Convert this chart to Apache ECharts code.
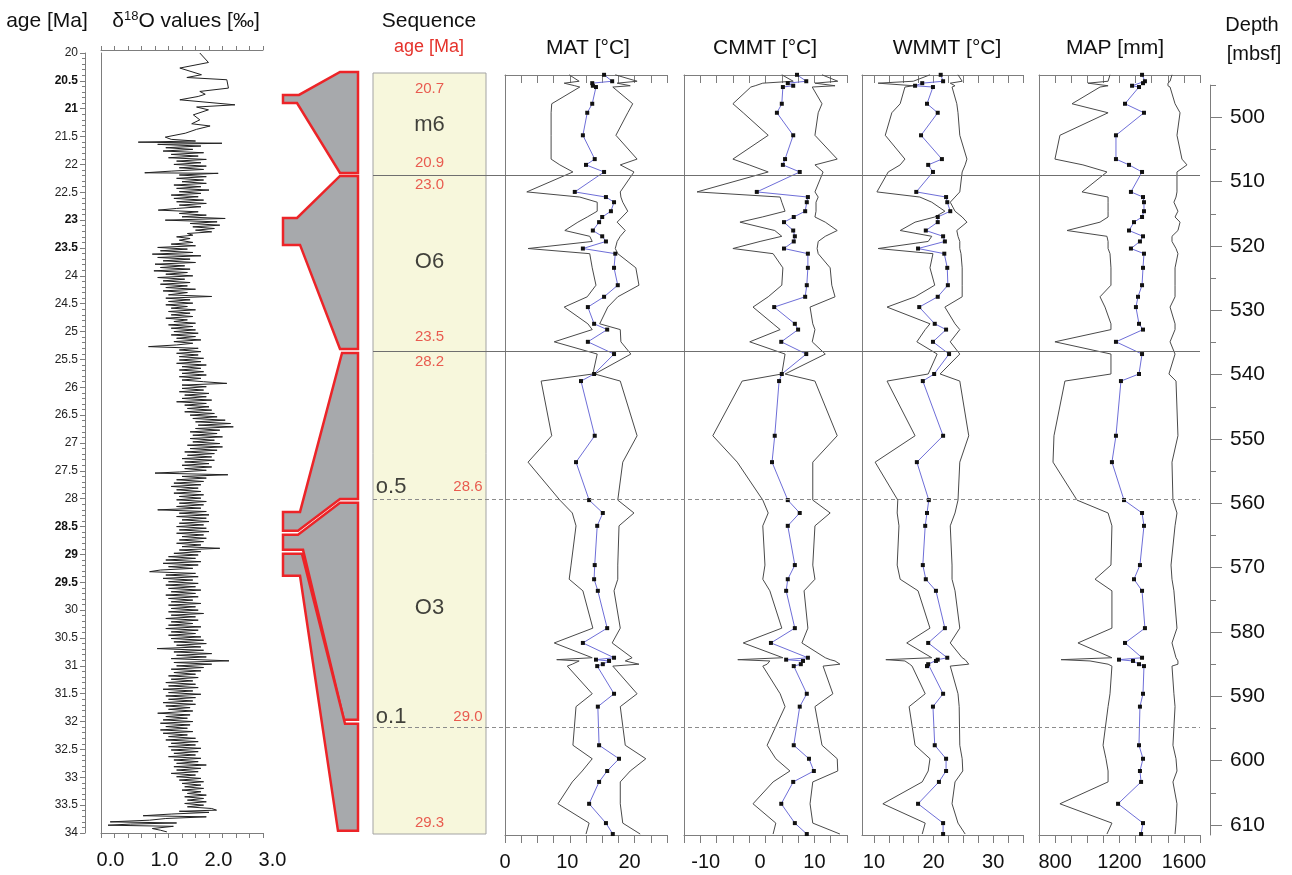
<!DOCTYPE html>
<html><head><meta charset="utf-8">
<script src="https://cdn.jsdelivr.net/npm/echarts@6/dist/echarts.min.js"></script>
<style>html,body{margin:0;padding:0;background:#fff}#c{width:1292px;height:875px}</style>
</head><body><div id="c"></div><script>
// ---------------- DATA ----------------
// delta18O record: [age Ma, value permil]
const d18O = [
[20.00,1.83],[20.17,1.99],[20.27,1.46],[20.39,1.86],[20.44,1.59],[20.48,2.33],[20.63,2.36],[20.69,1.83],[20.74,1.93],[20.78,1.80],[20.84,1.46],[20.93,2.48],[20.97,1.77],[21.02,1.99],[21.11,1.71],[21.20,1.83],[21.27,1.68],[21.31,2.02],[21.37,1.77],[21.44,1.56],[21.51,1.19],
[21.55,1.30],[21.58,1.75],[21.60,0.69],[21.62,2.24],[21.64,1.05],[21.67,1.85],[21.70,1.20],[21.73,1.70],[21.76,1.15],[21.79,1.90],[21.82,1.30],[21.85,1.80],[21.88,1.25],[21.91,1.95],[21.94,1.40],[21.97,1.85],
[22.00,1.35],[22.03,1.95],[22.06,1.45],[22.09,1.90],[22.12,1.30],[22.15,0.81],[22.16,2.17],[22.19,1.45],[22.22,1.95],[22.25,1.40],[22.28,1.90],[22.31,1.50],[22.34,1.95],[22.37,1.35],[22.40,1.85],[22.43,1.40],[22.46,2.00],[22.49,1.45],
[22.52,1.85],[22.55,1.30],[22.58,1.80],[22.61,1.35],[22.64,1.90],[22.67,1.40],[22.70,1.95],[22.73,1.45],[22.76,1.85],[22.79,1.40],[22.82,1.06],[22.85,1.80],[22.88,1.45],[22.91,1.95],[22.94,1.50],[22.97,2.30],[23.00,1.19],[23.03,2.15],
[23.06,1.65],[23.09,2.20],[23.12,1.70],[23.15,2.10],[23.18,1.75],[23.21,2.05],[23.24,1.60],[23.27,1.70],[23.30,1.40],[23.33,1.65],[23.36,1.45],[23.40,1.70],[23.43,1.30],
[23.46,1.75],[23.49,1.05],[23.52,1.60],[23.55,1.10],[23.58,1.70],[23.61,0.95],[23.64,1.85],[23.67,1.05],[23.70,1.65],[23.73,1.15],[23.76,1.75],[23.79,1.00],[23.82,1.55],[23.85,1.10],[23.88,1.65],[23.91,0.98],[23.94,1.60],[23.97,1.20],
[24.00,1.70],[24.03,1.05],[24.06,1.55],[24.09,1.15],[24.12,1.65],[24.15,1.10],[24.18,1.60],[24.21,1.20],[24.24,1.75],[24.27,1.15],[24.30,1.60],[24.34,1.25],[24.37,2.05],[24.40,1.20],[24.43,1.65],[24.46,1.25],
[24.49,1.70],[24.52,1.20],[24.55,1.60],[24.58,1.30],[24.61,1.75],[24.64,1.25],[24.67,1.65],[24.70,1.30],[24.73,1.70],[24.76,1.20],[24.79,1.60],[24.82,1.35],[24.85,1.75],[24.88,1.25],[24.91,1.70],[24.94,1.30],[24.97,1.75],
[25.00,1.35],[25.03,1.80],[25.06,1.30],[25.09,1.75],[25.12,1.40],[25.15,1.85],[25.18,1.35],[25.21,1.70],[25.24,1.40],[25.27,0.88],[25.30,1.80],[25.33,1.45],[25.36,1.85],[25.39,1.40],[25.42,1.80],[25.45,1.45],[25.48,1.90],
[25.51,1.45],[25.54,1.85],[25.57,1.40],[25.60,1.95],[25.63,1.50],[25.66,1.85],[25.69,1.45],[25.72,1.90],[25.75,1.50],[25.78,1.95],[25.81,1.45],[25.84,1.85],[25.87,1.50],[25.90,1.90],[25.93,2.33],[25.96,1.50],
[25.99,1.95],[26.02,1.50],[26.05,1.90],[26.08,1.45],[26.11,2.00],[26.14,1.55],[26.17,1.95],[26.20,1.50],[26.23,2.05],[26.26,1.40],[26.29,1.95],[26.32,1.55],[26.35,2.00],[26.38,1.60],[26.41,2.05],[26.44,1.55],[26.47,2.10],
[26.50,1.65],[26.53,2.15],[26.56,1.70],[26.59,2.30],[26.62,1.75],[26.65,2.40],[26.68,1.80],[26.71,2.45],[26.74,1.75],[26.77,2.20],[26.80,1.65],[26.83,2.15],[26.86,1.70],[26.89,2.25],[26.92,1.65],[26.95,2.10],[26.98,1.70],
[27.01,2.20],[27.04,1.60],[27.07,2.25],[27.10,1.65],[27.13,2.15],[27.16,1.55],[27.19,2.10],[27.22,1.60],[27.25,2.05],[27.28,1.50],[27.31,2.10],[27.34,1.55],[27.37,2.00],[27.40,1.50],[27.43,2.05],[27.46,1.55],[27.49,1.95],
[27.52,1.45],[27.54,1.00],[27.57,2.35],[27.60,1.50],[27.63,1.95],[27.66,1.40],[27.69,1.90],[27.72,1.35],[27.75,1.85],[27.78,1.30],[27.81,1.80],[27.84,1.40],[27.87,1.85],[27.90,1.35],[27.93,1.90],[27.96,1.45],[27.99,1.85],
[28.02,1.40],[28.05,1.95],[28.08,1.45],[28.11,1.90],[28.14,1.40],[28.17,1.85],[28.20,1.05],[28.23,1.95],[28.26,1.45],[28.29,2.00],[28.32,1.40],[28.35,1.95],[28.38,1.50],[28.41,2.00],[28.44,1.45],[28.47,1.90],
[28.50,1.40],[28.53,1.95],[28.56,1.45],[28.59,2.00],[28.62,1.40],[28.65,1.90],[28.68,1.50],[28.71,1.95],[28.74,1.45],[28.77,1.90],[28.80,1.40],[28.83,1.85],[28.86,1.50],[28.89,2.20],[28.92,1.45],[28.95,1.85],[28.98,1.35],
[29.01,1.80],[29.04,1.25],[29.07,1.75],[29.10,1.20],[29.13,1.85],[29.16,1.15],[29.19,1.80],[29.22,1.25],[29.25,1.70],[29.28,1.10],[29.31,0.90],[29.34,1.75],[29.37,1.20],[29.40,1.80],[29.43,1.15],[29.46,1.70],[29.49,1.25],
[29.52,1.80],[29.55,1.20],[29.58,1.75],[29.61,1.25],[29.64,1.85],[29.67,1.30],[29.70,1.75],[29.73,1.20],[29.76,1.80],[29.79,1.25],[29.82,1.70],[29.85,1.30],[29.88,1.85],[29.91,1.25],[29.94,1.75],[29.97,1.30],
[30.00,1.80],[30.03,1.25],[30.06,1.90],[30.09,1.30],[30.12,1.75],[30.15,1.20],[30.18,1.80],[30.21,1.30],[30.24,1.70],[30.27,1.25],[30.30,1.85],[30.33,1.20],[30.36,1.80],[30.39,1.30],[30.42,1.75],[30.45,1.25],[30.48,1.85],
[30.51,1.30],[30.54,1.90],[30.57,1.35],[30.60,1.95],[30.63,1.40],[30.66,1.85],[30.69,1.04],[30.72,1.90],[30.75,1.35],[30.78,2.05],[30.81,1.40],[30.84,1.95],[30.87,1.30],[30.91,2.37],[30.94,1.35],[30.97,2.05],
[31.00,1.40],[31.03,1.90],[31.06,1.30],[31.09,1.85],[31.12,1.35],[31.15,1.75],[31.18,1.25],[31.21,1.80],[31.24,1.30],[31.27,1.70],[31.30,1.20],[31.33,1.75],[31.36,1.25],[31.39,1.80],[31.42,1.15],[31.45,1.70],[31.48,1.25],
[31.51,1.85],[31.54,1.20],[31.57,1.75],[31.60,1.25],[31.63,1.70],[31.66,1.15],[31.69,1.75],[31.72,1.20],[31.75,1.65],[31.78,1.25],[31.81,1.70],[31.85,1.05],[31.88,1.65],[31.91,1.20],[31.94,1.60],[31.97,1.15],
[32.00,1.70],[32.03,1.10],[32.06,1.65],[32.09,1.20],[32.12,1.60],[32.15,1.10],[32.18,1.70],[32.21,1.15],[32.24,1.60],[32.27,1.25],[32.30,1.75],[32.33,1.20],[32.36,1.80],[32.39,1.30],[32.42,1.75],[32.45,1.25],[32.48,1.85],
[32.51,1.30],[32.54,1.80],[32.57,1.35],[32.60,1.75],[32.63,1.25],[32.66,1.85],[32.69,1.35],[32.72,1.80],[32.75,1.40],[32.78,1.95],[32.81,1.35],[32.84,1.85],[32.87,1.40],[32.90,1.80],[32.93,1.30],[32.96,1.75],[32.99,1.40],
[33.02,1.85],[33.05,1.45],[33.08,1.90],[33.11,1.50],[33.14,1.85],[33.17,1.55],[33.20,1.90],[33.23,1.50],[33.26,1.85],[33.29,1.60],[33.32,1.95],[33.35,1.55],[33.38,1.90],[33.41,1.60],[33.44,1.95],[33.47,1.55],[33.50,1.90],
[33.53,1.60],[33.56,2.05],[33.59,2.14],[33.61,1.45],[33.63,2.00],[33.66,1.30],[33.69,0.78],[33.71,1.95],[33.74,1.20],[33.77,0.90],[33.80,0.17],[33.82,1.40],[33.84,0.55],[33.86,0.13],[33.88,1.34],[33.92,0.95],[33.95,1.10],[33.98,1.22]
];
const ageBoldLabels = ['20.5','21','23','23.5','28.5','29','29.5'];
const d18OTicks = [0,0.25,0.5,0.75,1,1.25,1.5,1.75,2,2.25,2.5,2.75,3];
const d18OLabels = [0,1,2,3];

// sample depths (mbsf) shared by all proxy panels
const depths = [493.4,494.4,494.7,495.1,495.3,497.9,499.3,502.8,506.5,507.4,
508.5,511.6,512.4,513.2,514.6,515.5,516.3,517.6,518.5,519.3,
520.4,521.2,523.4,526.1,527.9,529.5,532.1,533.0,534.9,536.8,
539.9,541.0,549.5,553.6,559.5,561.5,563.5,569.6,571.8,573.6,
579.4,581.7,584.0,584.3,584.5,585.0,585.3,589.6,591.6,597.6,
599.7,601.6,603.3,606.7,609.7,611.4];

const matMean = [15.9,17.2,14.0,14.1,14.6,14.0,13.2,12.5,14.4,13.0,15.9,11.2,16.2,17.5,17.0,15.6,15.1,14.1,15.6,16.2,12.5,17.7,17.5,18.1,15.9,13.3,14.3,16.4,13.3,17.5,14.3,12.2,14.4,11.4,13.5,15.7,14.8,14.4,14.3,14.9,16.4,12.5,17.5,14.6,16.7,15.7,14.8,17.5,14.9,15.1,18.3,16.4,15.1,13.5,16.2,17.3];
const matMin  = [10.3,11.9,9.5,11.2,12.0,7.5,7.4,7.4,7.4,8.8,10.9,3.5,12.0,14.8,14.8,13.2,11.7,9.6,13.6,14.0,3.7,13.6,14.0,14.6,13.2,9.5,13.3,14.0,7.9,14.8,14.1,5.8,7.5,3.7,8.8,10.8,11.4,10.6,10.3,12.5,14.1,7.9,14.0,8.3,11.9,10.8,10.0,14.0,11.4,10.9,14.0,12.4,10.8,8.5,13.5,13.0];
const matMax  = [17.7,21.2,18.0,20.1,17.3,20.5,19.7,17.8,21.2,18.5,20.7,18.5,18.6,18.9,19.7,18.8,18.0,19.3,18.5,18.0,17.7,18.1,21.0,21.5,18.1,16.5,15.2,18.5,18.6,20.2,14.4,18.5,21.2,18.9,18.1,20.7,18.3,18.1,18.1,17.5,18.5,17.2,20.4,20.1,19.3,21.5,17.3,21.2,18.5,19.3,22.6,20.1,18.5,18.5,18.9,21.7];

const cmmtMean = [6.8,8.5,5.1,6.1,4.2,4.0,3.1,6.1,4.6,4.2,7.3,-0.6,8.8,8.6,8.3,6.2,4.4,6.1,6.4,6.2,4.4,8.8,8.8,8.6,8.3,2.6,6.4,7.0,3.9,8.5,4.0,3.5,2.7,2.2,5.1,7.3,5.1,6.4,5.1,4.8,6.4,2.0,8.8,4.8,7.9,7.5,6.2,8.6,7.3,6.2,9.0,9.9,6.1,3.9,6.4,8.6];
const cmmtMin  = [4.0,6.1,0.5,-0.9,-1.7,-5.0,-3.1,1.5,-5.0,-2.0,1.5,-11.6,3.7,4.0,4.6,0.4,-3.7,2.7,4.0,0.0,-5.0,2.4,4.2,4.0,1.5,-1.3,2.4,3.7,-1.9,4.6,4.0,-3.3,-8.7,-4.2,0.5,1.5,0.5,0.9,0.5,1.8,4.0,-3.1,4.2,-4.1,1.8,1.3,0.5,3.7,4.6,1.3,2.9,5.5,2.4,-1.3,2.9,2.4];
const cmmtMax  = [11.4,14.3,10.1,13.8,9.6,11.4,10.7,10.1,14.2,10.1,11.6,10.1,10.7,10.3,10.3,10.1,12.0,14.2,12.0,10.7,10.5,10.7,12.9,13.2,13.8,9.2,9.7,10.1,9.6,12.0,4.6,10.1,14.2,9.7,9.7,12.9,10.1,9.7,10.1,8.1,8.8,7.7,12.0,12.9,13.8,14.7,11.6,13.4,10.1,11.4,14.2,14.3,9.7,9.2,9.7,14.7];

const wmmtMean = [21.2,21.6,18.1,16.9,19.9,18.9,20.7,17.9,21.4,19.1,19.9,17.1,22.1,22.3,22.8,20.7,20.7,18.7,21.6,21.9,17.4,21.8,22.3,22.4,20.7,17.6,20.2,22.1,19.9,22.6,20.1,18.2,21.6,17.2,19.2,18.9,18.6,18.2,18.7,20.4,21.9,19.1,22.3,20.7,20.4,19.1,18.9,21.6,19.9,20.2,22.1,22.1,20.9,17.4,21.6,21.6];
const wmmtMin  = [19.4,16.6,10.7,16.6,15.2,14.4,13.0,11.9,15.2,14.4,12.4,10.5,17.7,19.7,21.9,20.2,16.9,14.4,19.7,19.1,10.7,19.9,19.4,20.2,16.9,12.2,19.4,18.6,17.2,20.6,19.1,12.2,16.9,10.2,14.0,13.9,14.2,13.9,14.4,17.4,19.4,15.5,19.7,12.0,15.2,16.0,16.4,18.6,15.9,16.9,19.4,19.1,18.1,11.5,18.6,18.1];
const wmmtMax  = [24.1,24.8,22.8,23.6,23.1,23.9,24.1,24.4,25.6,25.3,24.8,24.4,23.6,22.8,23.6,24.8,25.6,23.9,24.1,24.4,24.4,24.6,24.8,24.8,24.8,21.9,23.6,24.4,22.8,24.4,21.1,24.4,25.9,24.4,24.1,23.6,22.8,23.1,23.1,23.6,24.4,22.8,24.8,25.3,25.6,25.9,22.8,24.1,24.3,24.4,24.8,24.9,23.6,23.1,24.1,25.3];

const mapMean = [1340,1358,1346,1278,1321,1234,1352,1178,1178,1259,1340,1271,1346,1352,1352,1340,1290,1259,1346,1327,1271,1352,1346,1340,1315,1302,1321,1346,1178,1340,1321,1209,1178,1153,1228,1340,1352,1327,1290,1340,1358,1234,1340,1197,1284,1321,1352,1346,1327,1321,1346,1327,1334,1191,1346,1334];
const mapMin  = [1141,1129,1004,1129,1079,905,1129,830,799,973,1122,967,1129,1129,1129,1129,1079,874,1122,1129,1129,1141,1147,1147,1079,1110,1147,1147,799,1147,1147,861,793,787,936,1129,1153,1147,1048,1153,1153,942,1153,837,1017,1129,1153,1141,1129,1098,1116,1129,1129,830,1153,1122];
const mapMax  = [1526,1514,1501,1501,1514,1545,1576,1557,1588,1619,1557,1557,1551,1538,1563,1545,1576,1563,1526,1526,1551,1563,1545,1545,1545,1514,1545,1545,1514,1545,1507,1551,1563,1526,1532,1557,1545,1520,1526,1538,1557,1526,1551,1557,1563,1563,1526,1538,1545,1532,1551,1557,1532,1557,1551,1545];

// axis ticks / labels
const matTicks = [0,2.6,5.2,7.8,10.4,13,15.6,18.2,20.8,23.4,26];
const matLabels = [0,10,20];
const cmmtTicks = [-14,-11,-8,-5,-2,1,4,7,10,13,16];
const cmmtLabels = [-10,0,10];
const wmmtTicks = [10,12.5,15,17.5,20,22.5,25,27.5,30,32.5,35];
const wmmtLabels = [10,20,30];
const mapTicks = [700,800,900,1000,1100,1200,1300,1400,1500,1600,1700];
const mapLabels = [800,1200,1600];
const depthMajor = [500,510,520,530,540,550,560,570,580,590,600,610];
const depthMinor = [495,505,515,525,535,545,555,565,575,585,595,605];

// sequence boundaries (depth, mbsf)
const boundaryDepths = [509.0, 536.4, 559.3, 594.8];
const boundaryKinds = ['solid','solid','dashed','dashed'];

// sequence column texts: label, depth, relative position in column
const seqText  = ['20.7','m6','20.9','23.0','O6','23.5','28.2','o.5','28.6','O3','o.1','29.0','29.3'];
const seqDepth = [495.6,501.2,507.1,510.5,522.5,534.1,538.0,557.4,557.4,576.2,593.2,593.2,609.7];
const seqPos   = [0.5,0.5,0.5,0.5,0.5,0.5,0.5,0.16,0.84,0.5,0.16,0.84,0.5];

// sequence-stratigraphic outlines: [relative width %, depth]
const seqM6 = [[76,492.96],[100,492.96],[100,508.65],[76,508.65],[18.7,497.78],[0,497.78],[0,496.53],[21.3,496.53]];
const seqO6 = [[76,509.12],[100,509.12],[100,536.0],[76,536.0],[22.7,519.84],[0,519.84],[0,515.65],[18.7,515.65]];
const seqO5 = [[78.7,536.62],[100,536.62],[100,559.31],[76,559.31],[20,564.28],[0,564.28],[0,561.33],[22.7,561.33]];
const seqO3a = [[100,559.93],[76,559.93],[20,564.9],[0,564.9],[0,567.23],[26.7,567.23],[81.3,593.65],[100,593.65]];
const seqO3b = [[0,567.85],[25.3,567.85],[82.7,594.27],[100,594.27],[100,610.9],[73.3,610.9],[22.7,571.27],[0,571.27]];
const seqShapes = [seqM6, seqO6, seqO5, seqO3a, seqO3b];

// ---------------- CHART ----------------
const FONT = '"Liberation Sans", Arial, sans-serif';
const AX = '#7d7d7d';
const DMIN = 493.43, DMAX = 611.55;
const chart = echarts.init(document.getElementById('c'), null, {renderer:'canvas'});

const grids = [
  {left:101, top:53, width:162, height:780},   // 0 d18O
  {left:505, top:75, width:162, height:760},   // 1 MAT
  {left:684, top:75, width:163, height:760},   // 2 CMMT
  {left:862, top:75, width:161, height:760},   // 3 WMMT
  {left:1039, top:75, width:161, height:760},  // 4 MAP
  {left:1200, top:85.1, width:10, height:749.9}, // 5 depth axis
  {left:373, top:73, width:113, height:761, show:true, backgroundColor:'#f7f7dc', borderColor:'#a3a3a3', borderWidth:1}, // 6 sequence column
  {left:373, top:75, width:827, height:760},   // 7 boundary overlay
  {left:283, top:75, width:75, height:760}     // 8 shapes
];

function panelX(gi, min, max, ticks, labels, fmt, pad) {
  const common = {type:'value', gridIndex:gi, min, max, splitLine:{show:false},
    axisLine:{show:true, onZero:false, lineStyle:{color:AX, width:1}}};
  return [
    Object.assign({}, common, {position:'bottom',
      axisTick:{show:true, customValues:ticks, length:8, lineStyle:{color:AX}},
      axisLabel:{show:true, customValues:labels, fontSize:20, color:'#111', fontFamily:FONT, margin:17,
        formatter: fmt || (v => String(v)), padding: pad || 0}}),
    Object.assign({}, common, {position:'top',
      axisTick:{show:true, customValues:ticks, inside:true, length:8, lineStyle:{color:AX}},
      axisLabel:{show:false}})
  ];
}
function hiddenX(gi, min, max) { return {type:'value', gridIndex:gi, min, max, show:false}; }
function hiddenY(gi, min, max) { return {type:'value', gridIndex:gi, min, max, inverse:true, show:false}; }
function panelY(gi) {
  return {type:'value', gridIndex:gi, min:DMIN, max:DMAX, inverse:true, position:'left',
    axisLine:{show:true, onZero:false, lineStyle:{color:AX}}, axisTick:{show:false}, axisLabel:{show:false}, splitLine:{show:false}};
}

const d18Ox = panelX(0, 0, 3, d18OTicks, d18OLabels, v => v.toFixed(1), [0,0,0,19]);
d18Ox[0].axisTick.length = 5;
d18Ox[1].axisTick = {show:true, customValues:d18OTicks, inside:false, length:4, lineStyle:{color:AX}};
d18Ox[1].offset = 3;

const xAxes = [].concat(
  d18Ox,
  panelX(1, 0, 26, matTicks, matLabels),
  panelX(2, -14, 16, cmmtTicks, cmmtLabels),
  panelX(3, 8, 35, wmmtTicks, wmmtLabels),
  panelX(4, 700, 1700, mapTicks, mapLabels),
  [hiddenX(5,0,1), hiddenX(6,0,1), hiddenX(7,0,1), hiddenX(8,0,100)]
);

const yAxes = [
  {type:'value', gridIndex:0, min:20, max:34, interval:0.5, inverse:true, position:'left', offset:16,
    axisLine:{show:true, onZero:false, lineStyle:{color:AX}},
    axisTick:{show:true, length:5, lineStyle:{color:AX}},
    minorTick:{show:true, splitNumber:5, length:3, lineStyle:{color:AX}},
    splitLine:{show:false},
    axisLabel:{fontSize:12, color:'#222', fontFamily:FONT, margin:7,
      formatter: v => { const s = String(v); return ageBoldLabels.indexOf(s) >= 0 ? '{b|' + s + '}' : s; },
      rich:{b:{fontWeight:'bold', fontSize:12, color:'#111', fontFamily:FONT}}}},
  {type:'value', gridIndex:0, min:20, max:34, inverse:true, position:'left', offset:0,
    axisLine:{show:true, onZero:false, lineStyle:{color:AX}}, axisTick:{show:false}, axisLabel:{show:false}, splitLine:{show:false}},
  panelY(1), panelY(2), panelY(3), panelY(4),
  {type:'value', gridIndex:5, min:495, max:DMAX, inverse:true, position:'right', offset:0,
    axisLine:{show:true, onZero:false, lineStyle:{color:AX}},
    axisTick:{show:true, customValues:depthMajor, length:12, lineStyle:{color:AX}},
    axisLabel:{show:true, customValues:depthMajor, fontSize:21, color:'#111', fontFamily:FONT, margin:20},
    splitLine:{show:false}},
  {type:'value', gridIndex:5, min:495, max:DMAX, inverse:true, position:'right', offset:0,
    axisLine:{show:false, onZero:false}, axisTick:{show:true, customValues:depthMinor, length:6, lineStyle:{color:AX}},
    axisLabel:{show:false}, splitLine:{show:false}},
  hiddenY(6, 493.12, 611.40),
  hiddenY(7, DMIN, DMAX),
  hiddenY(8, DMIN, DMAX)
];

function envSeries(xi, yi, vals) {
  return {type:'line', xAxisIndex:xi, yAxisIndex:yi, clip:false, silent:true, animation:false,
    data: vals.map((v,i) => [v, depths[i]]), symbol:'none',
    lineStyle:{color:'#4a4a4a', width:1}, z:3};
}
function meanSeries(xi, yi, vals) {
  return {type:'line', xAxisIndex:xi, yAxisIndex:yi, clip:false, silent:true, animation:false,
    data: vals.map((v,i) => [v, depths[i]]), symbol:'rect', symbolSize:4, showAllSymbol:true,
    itemStyle:{color:'#111'}, lineStyle:{color:'#6e6ed8', width:1}, z:4};
}

const series = [
  {type:'line', xAxisIndex:0, yAxisIndex:0, silent:true, animation:false, symbol:'none',
    data: d18O.map(p => [p[1], p[0]]), lineStyle:{color:'#222', width:1}},
  envSeries(2,2,matMin), envSeries(2,2,matMax), meanSeries(2,2,matMean),
  envSeries(4,3,cmmtMin), envSeries(4,3,cmmtMax), meanSeries(4,3,cmmtMean),
  envSeries(6,4,wmmtMin), envSeries(6,4,wmmtMax), meanSeries(6,4,wmmtMean),
  envSeries(8,5,mapMin), envSeries(8,5,mapMax), meanSeries(8,5,mapMean),
  {type:'line', xAxisIndex:12, yAxisIndex:9, data:[], silent:true, z:5,
    markLine:{silent:true, symbol:['none','none'], animation:false, label:{show:false},
      data: boundaryDepths.map((d,i) => ({yAxis:d, lineStyle:{type: boundaryKinds[i]==='solid' ? 'solid' : [4,3],
        color: boundaryKinds[i]==='solid' ? '#6f6f6f' : '#8c8c8c', width:1}}))}},
  {type:'scatter', xAxisIndex:11, yAxisIndex:8, silent:true, symbolSize:1, z:6,
    itemStyle:{color:'rgba(0,0,0,0)'},
    data: seqText.map((t,i) => {
      const isNum = /^[0-9]/.test(t);
      return {value:[seqPos[i], seqDepth[i]], label:{show:true, position:'inside', formatter:t,
        color: isNum ? '#e5332c' : '#111', fontSize: isNum ? 15 : 22, fontFamily:FONT}};
    })},
  {type:'custom', xAxisIndex:13, yAxisIndex:10, clip:false, silent:true, z:4,
    data: seqShapes.map((s,i) => [s[0][0], s[0][1], i]),
    renderItem: (params, api) => {
      const s = seqShapes[params.dataIndex];
      return {type:'polygon', shape:{points: s.map(p => api.coord(p))},
        style:{fill:'#a7a9ac', stroke:'#ec2428', lineWidth:2.5, lineJoin:'miter', miterLimit:3}};
    }}
];

function txt(x, y, text, size, color) {
  return {type:'text', x, y, silent:true, style:{text, fontSize:size, fontFamily:FONT, fill:color || '#111', align:'center', verticalAlign:'middle'}};
}
const graphics = [
  txt(47, 21, 'age [Ma]', 21),
  {type:'text', x:186, y:21, silent:true, style:{text:'{a|δ}{s|18}{a|O values [‰]}', align:'center', verticalAlign:'middle',
    rich:{a:{fontSize:21, fontFamily:FONT, fill:'#111'}, s:{fontSize:13, fontFamily:FONT, fill:'#111', padding:[0,0,9,0]}}}},
  txt(429, 21, 'Sequence', 21),
  txt(429, 47, 'age [Ma]', 18, '#e5332c'),
  txt(588, 48, 'MAT [°C]', 21),
  txt(765, 48, 'CMMT [°C]', 21),
  txt(947, 48, 'WMMT [°C]', 21),
  txt(1115, 48, 'MAP [mm]', 21),
  txt(1252, 25, 'Depth', 20),
  txt(1254, 54, '[mbsf]', 20)
];

chart.setOption({
  animation:false,
  backgroundColor:'#fff',
  textStyle:{fontFamily:FONT},
  grid: grids,
  xAxis: xAxes,
  yAxis: yAxes,
  series: series,
  graphic: graphics
});
</script></body></html>
